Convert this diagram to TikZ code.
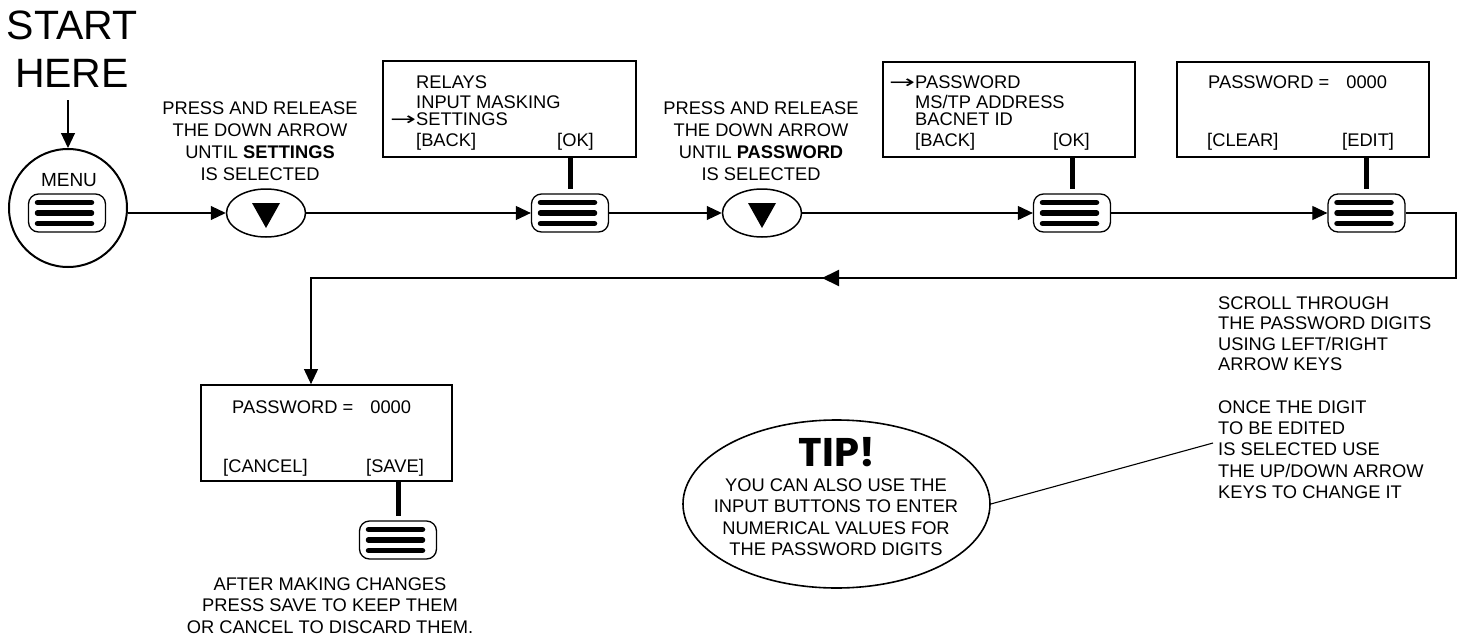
\documentclass[tikz,border=0pt]{standalone}
\usepackage{graphicx}
\usepackage{fontspec}
\setmainfont{Liberation Sans}
\newfontfamily\arrowfont{DejaVu Sans}
\newfontfamily\tipfont{Poppins}
\usetikzlibrary{shapes.geometric,arrows.meta}
\newcommand{\rarr}{\llap{\arrowfont\scalebox{1.7}[1]{→}}}
\begin{document}
\begin{tikzpicture}[x=1pt,y=-1pt,
  txt/.style={font=\fontsize{18.3}{22}\selectfont, inner sep=0pt},
  plain/.style={line width=1.1pt},
  flow/.style={line width=1.1pt, -{Triangle[length=15pt,width=14pt]}},
  link/.style={line width=5pt},
  screen/.style={draw, line width=1.8pt, inner sep=0pt},
  bars/.style={path picture={
     \foreach \dy in {10.5,0,-10.5}
       \draw[line width=5.5pt, line cap=round]
         ([xshift=-29.5pt,yshift=\dy pt]path picture bounding box.center) -- ++(54pt,0pt);}},
  btn/.style={draw, rounded corners=10pt, line width=1.3pt, minimum width=77pt,
     minimum height=38pt, inner sep=0pt, bars},
  dnkey/.style={ellipse, draw, line width=1.5pt, minimum width=79pt, minimum height=48pt,
     inner sep=0pt, path picture={
       \fill ([xshift=-14pt,yshift=10pt]path picture bounding box.center) -- ++(28pt,0pt)
         -- ([yshift=-15pt]path picture bounding box.center) -- cycle;}}
]
\useasboundingbox (0,0) rectangle (1465,635);

% start
\node[font=\fontsize{41}{48}\selectfont, align=center, anchor=north, inner sep=0pt] (start) at (72,10.5) {START\\HERE};
\coordinate (startarr) at (68,100);
\node[circle, draw, line width=2pt, minimum size=118pt, inner sep=0pt] (menu) at (68,208) {};
\node[font=\fontsize{19}{19}\selectfont, inner sep=0pt] (menulbl) at (69,180) {MENU};
\node[btn] (menubtn) at (67,213) {};
\draw[flow] (startarr) -- (menu.north);

% first down key
\node[txt, align=center, anchor=north] (t1) at (260,101.5) {PRESS AND RELEASE\\THE DOWN ARROW\\UNTIL \textbf{SETTINGS}\\IS SELECTED};
\node[dnkey] (dn1) at (266,213) {};

% box 1
\node[screen, minimum width=253pt, minimum height=96pt] (box1) at (509.5,109) {};
\node[txt, anchor=base west] (b1a) at (416,88.5) {RELAYS};
\node[txt, anchor=base west] (b1b) at (416,108) {INPUT MASKING};
\node[txt, anchor=base west] (b1c) at (416,125.5) {\rarr SETTINGS};
\node[txt, anchor=base west] (b1d) at (416,146) {[BACK]};
\node[txt, anchor=base west] (b1e) at (557,146) {[OK]};
\node[btn] (btn1) at (570,213) {};
\draw[link] (box1.south -| btn1.north) -- ([yshift=4pt]btn1.north);

% second down key
\node[txt, align=center, anchor=north] (t2) at (761,101.5) {PRESS AND RELEASE\\THE DOWN ARROW\\UNTIL \textbf{PASSWORD}\\IS SELECTED};
\node[dnkey] (dn2) at (762,213) {};

% box 2
\node[screen, minimum width=252pt, minimum height=95pt] (box2) at (1009,109.5) {};
\node[txt, anchor=base west] (b2a) at (915,88.5) {\rarr PASSWORD};
\node[txt, anchor=base west] (b2b) at (915,108) {MS/TP ADDRESS};
\node[txt, anchor=base west] (b2c) at (915,125.5) {BACNET ID};
\node[txt, anchor=base west] (b2d) at (915,146) {[BACK]};
\node[txt, anchor=base west] (b2e) at (1053,146) {[OK]};
\node[btn] (btn2) at (1072,213) {};
\draw[link] (box2.south -| btn2.north) -- ([yshift=4pt]btn2.north);

% box 3
\node[screen, minimum width=252pt, minimum height=95pt] (box3) at (1303,109.5) {};
\node[txt, anchor=base west] (b3a) at (1208,88.5) {PASSWORD =\hspace{17pt}0000};
\node[txt, anchor=base west] (b3b) at (1207,146) {[CLEAR]};
\node[txt, anchor=base west] (b3c) at (1342,146) {[EDIT]};
\node[btn] (btn3) at (1366.5,213) {};
\draw[link] (box3.south -| btn3.north) -- ([yshift=4pt]btn3.north);

% main flow
\draw[flow] (menu.east |- menubtn.east) -- (dn1.west);
\draw[flow] (dn1.east) -- (btn1.west);
\draw[flow] (btn1.east) -- (dn2.west);
\draw[flow] (dn2.east) -- (btn2.west);
\draw[flow] (btn2.east) -- (btn3.west);

% box 4
\node[screen, minimum width=251pt, minimum height=96pt] (box4) at (326.5,433) {};
\node[txt, anchor=base west] (b4a) at (232,413.5) {PASSWORD =\hspace{17pt}0000};
\node[txt, anchor=base west] (b4b) at (223,472.5) {[CANCEL]};
\node[txt, anchor=base west] (b4c) at (366,472.5) {[SAVE]};
\node[btn] (btn4) at (398,540) {};
\draw[link] (box4.south -| btn4.north) -- ([yshift=4pt]btn4.north);
\node[txt, align=center, anchor=north, font=\fontsize{18.3}{21.5}\selectfont] (t4) at (330,577.5) {AFTER MAKING CHANGES\\PRESS SAVE TO KEEP THEM\\OR CANCEL TO DISCARD THEM.};

% return route
\coordinate (r1) at (1456,213);
\coordinate (r2) at (1456,278);
\coordinate (r3) at (311,278);
\coordinate (m1) at (1068,278);
\coordinate (m2) at (822,278);
\draw[flow] (btn3.east) -- (r1) -- (r2) -- (r3) -- (r3 |- box4.north);
\draw[line width=2pt, -{Triangle[length=17pt,width=16pt]}] (m1) -- (m2);

% right notes
\node[txt, align=left, anchor=north west, font=\fontsize{18.3}{20.4}\selectfont] (n1) at (1218,296.5) {SCROLL THROUGH\\THE PASSWORD DIGITS\\USING LEFT/RIGHT\\ARROW KEYS};
\node[txt, align=left, anchor=north west, font=\fontsize{18.3}{21.2}\selectfont] (n2) at (1218,400.5) {ONCE THE DIGIT\\TO BE EDITED\\IS SELECTED USE\\THE UP/DOWN ARROW\\KEYS TO CHANGE IT};

% tip
\node[ellipse, draw, line width=1.6pt, minimum width=307pt, minimum height=168pt, inner sep=0pt] (tip) at (836.5,504) {};
\node[font=\tipfont\bfseries\fontsize{40}{40}\selectfont, inner sep=0pt, anchor=north] (tiptitle) at (837,437) {TIP!};
\node[txt, align=center, anchor=north, font=\fontsize{18.3}{21.3}\selectfont] (tiptext) at (836,478.5) {YOU CAN ALSO USE THE\\INPUT BUTTONS TO ENTER\\NUMERICAL VALUES FOR\\THE PASSWORD DIGITS};
\coordinate (tipend) at (1213,443);
\draw[plain] (tip.east) -- (tipend);
\end{tikzpicture}
\end{document}
